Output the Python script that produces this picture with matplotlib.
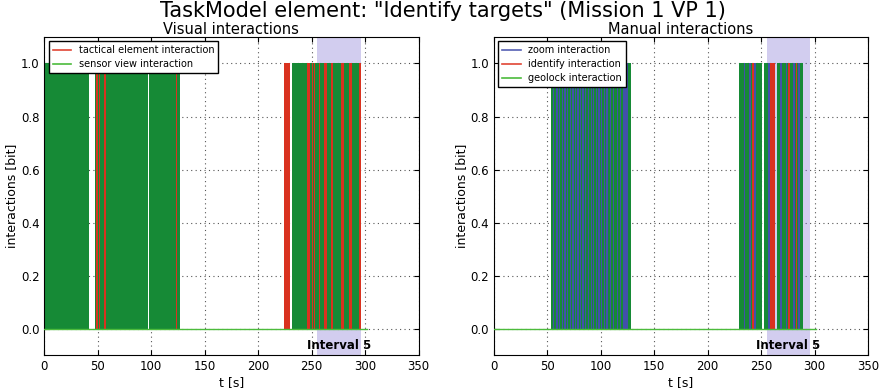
import matplotlib
matplotlib.use("Agg")
import matplotlib.pyplot as plt
from matplotlib.lines import Line2D

# Interaction intervals (start, end) in seconds
visual_sensor = [(0, 41.6), (47.2, 97.0), (97.8, 127.3), (231.3, 296.4)]
visual_tactical = [(48.8, 50.3), (51.0, 52.3), (56.3, 58.0), (122.8, 124.0),
                   (224.1, 229.4), (245.4, 248.3), (250.1, 251.3), (251.8, 253.6),
                   (256.8, 257.8), (261.9, 263.9), (268.2, 270.1), (277.6, 280.1),
                   (285.3, 287.6), (294.7, 296.4)]

manual_geolock = [(53.0, 128.0), (229.0, 250.5), (252.6, 262.6), (264.5, 289.1)]
manual_zoom = [(55.2, 56.6), (58.4, 59.8), (60.8, 62.2), (63.6, 65.0), (65.9, 67.3),
               (68.3, 69.7), (70.8, 72.2), (73.4, 74.8), (75.5, 76.9), (78.0, 79.4),
               (80.2, 81.6), (82.7, 84.1), (85.1, 86.5), (88.0, 89.4), (90.5, 91.9),
               (92.6, 94.0), (95.1, 96.5), (97.7, 99.1), (100.1, 101.5), (102.6, 104.0),
               (105.1, 106.5), (108.2, 109.6), (111.3, 112.7), (115.0, 116.4),
               (117.6, 119.0), (120.8, 125.5),
               (233.6, 234.9), (238.6, 240.2), (243.6, 245.5), (256.3, 257.9),
               (267.9, 269.8), (272.9, 274.5), (279.8, 281.6), (284.1, 286.0)]
manual_identify = [(241.1, 243.3), (258.6, 262.6), (275.4, 277.3), (282.2, 283.5)]

data_end = 301.5
interval_span = (255, 296)
interval_label = "Interval 5"

FILL_GREEN = "#168a36"
FILL_RED = "#d9321f"
FILL_BLUE = "#4250aa"
LINE_GREEN = "#4cbb3c"
LINE_RED = "#e04535"
LINE_BLUE = "#5560b4"

plt.rcParams["font.family"] = "DejaVu Sans"

fig = plt.figure(figsize=(8.85, 3.89), dpi=100)
ax1 = fig.add_axes([0.050, 0.087, 0.423, 0.818])
ax2 = fig.add_axes([0.558, 0.087, 0.423, 0.818])


def draw_series(ax, intervals, fill_color):
    for start, end in intervals:
        ax.fill_between([start, end], 0, 1, color=fill_color, linewidth=0, zorder=2)


def style_axes(ax, title):
    # zero-level step line of the geolock / sensor view series
    ax.plot([0, data_end], [0, 0], color=LINE_GREEN, lw=1.0, zorder=3)
    ax.axvspan(*interval_span, color="slateblue", alpha=0.3, lw=0, zorder=1)
    ax.text(sum(interval_span) / 2, -0.062, interval_label, ha="center", va="center",
            fontsize=8.5, fontweight="bold", zorder=4)
    ax.set_xlim(0, 350)
    ax.set_ylim(-0.1, 1.1)
    ax.set_yticks([0.0, 0.2, 0.4, 0.6, 0.8, 1.0])
    ax.set_xticks(range(0, 351, 50))
    ax.grid(True, color="#555555", linestyle=(0, (1, 3)), linewidth=0.8)
    ax.set_axisbelow(True)
    ax.tick_params(direction="in", top=True, right=True, labelsize=8.5)
    ax.set_xlabel("t [s]", fontsize=9, labelpad=2)
    ax.set_ylabel("interactions [bit]", fontsize=9, labelpad=2)
    ax.set_title(title, fontsize=10.5, pad=2)


def add_legend(ax, colors, labels):
    handles = [Line2D([], [], color=c, lw=1.2) for c in colors]
    ax.legend(handles, labels, loc="upper left", fontsize=7, fancybox=False,
              framealpha=1, edgecolor="black", borderaxespad=0.45,
              handlelength=1.9, handletextpad=0.8, labelspacing=0.4,
              borderpad=0.4)


draw_series(ax1, visual_sensor, FILL_GREEN)
draw_series(ax1, visual_tactical, FILL_RED)
style_axes(ax1, "Visual interactions")
add_legend(ax1, [LINE_RED, LINE_GREEN],
           ["tactical element interaction", "sensor view interaction"])

draw_series(ax2, manual_geolock, FILL_GREEN)
draw_series(ax2, manual_zoom, FILL_BLUE)
draw_series(ax2, manual_identify, FILL_RED)
style_axes(ax2, "Manual interactions")
add_legend(ax2, [LINE_BLUE, LINE_RED, LINE_GREEN],
           ["zoom interaction", "identify interaction", "geolock interaction"])

fig.suptitle('TaskModel element: "Identify targets" (Mission 1 VP 1)', fontsize=15, y=0.998)

fig.savefig("out.png", dpi=100)
